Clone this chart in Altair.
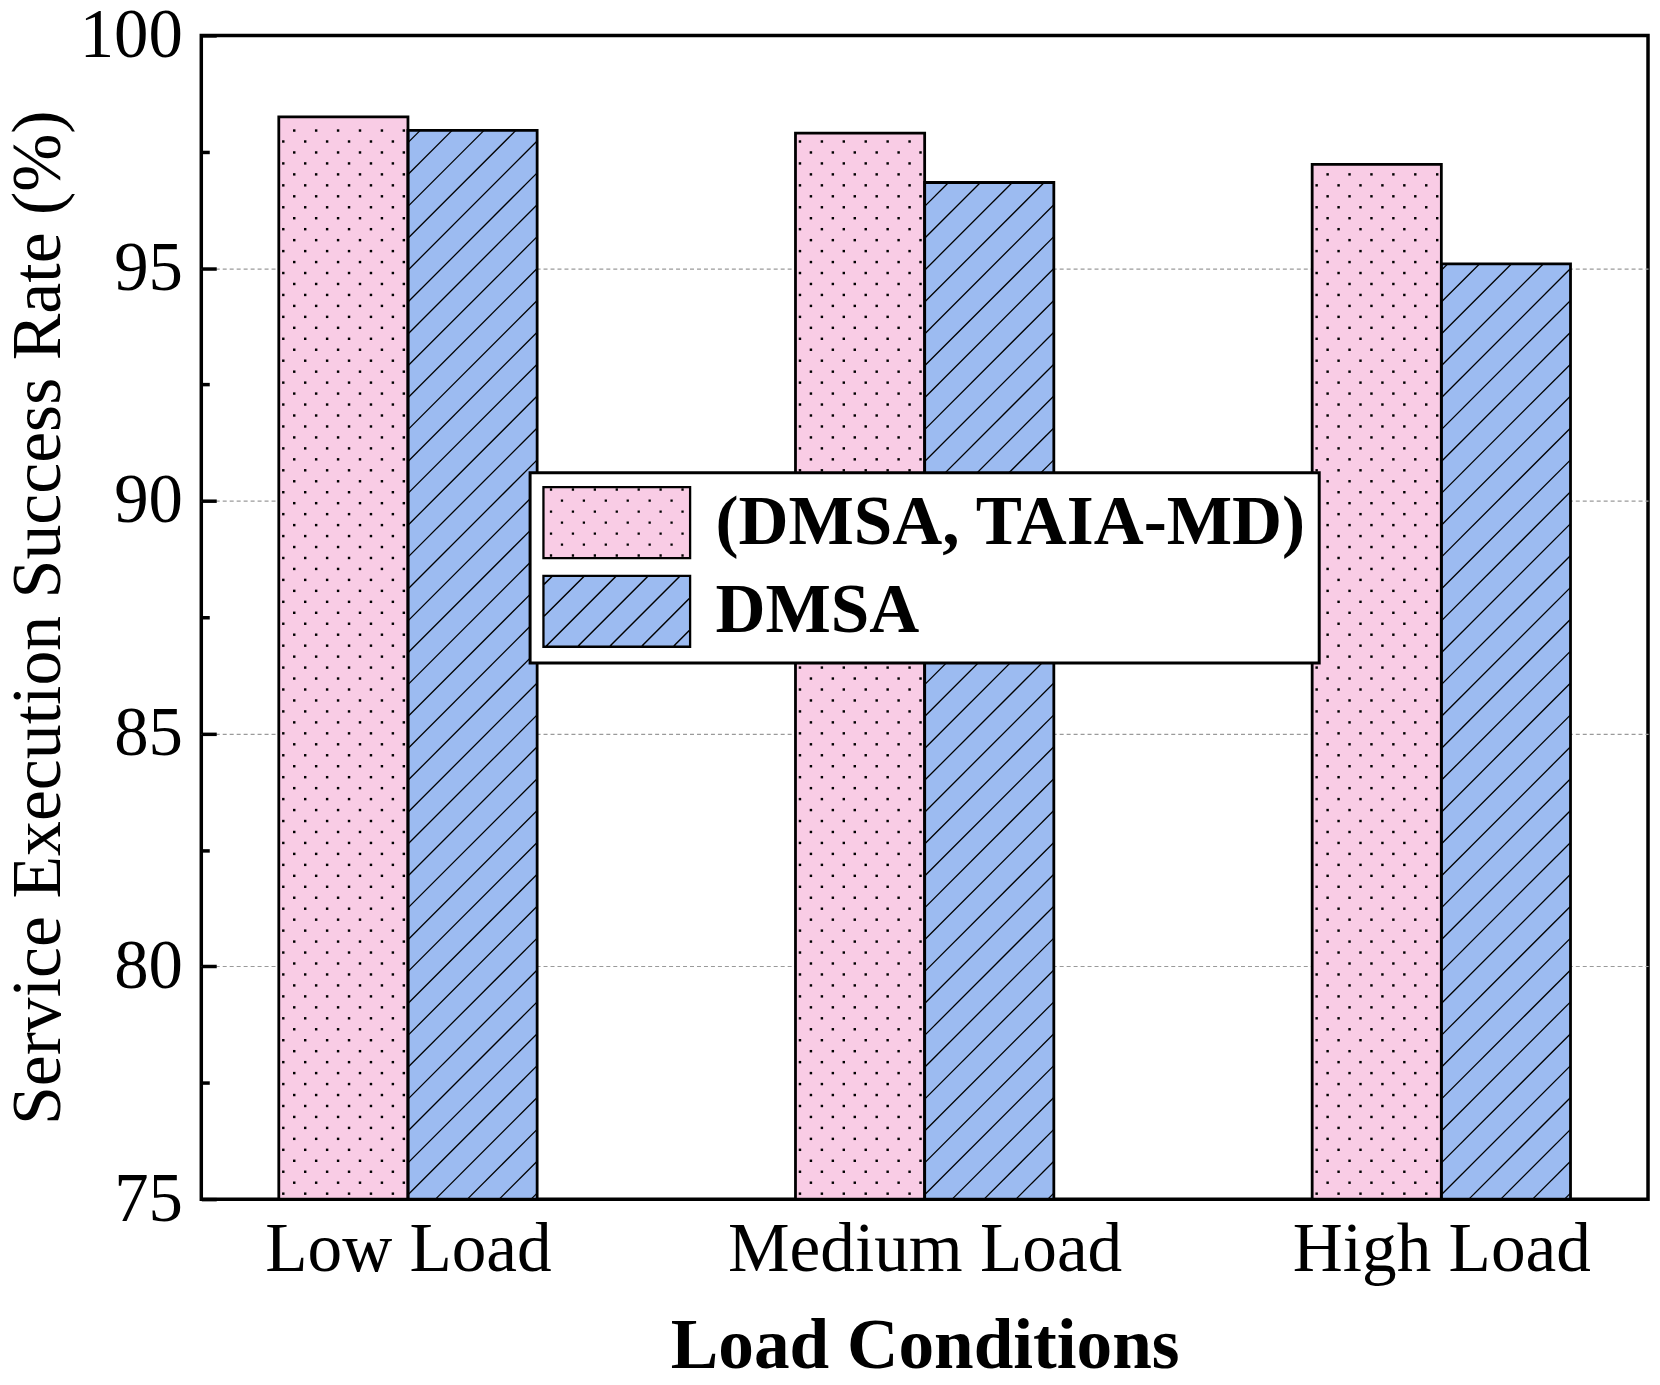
import altair as alt
import pandas as pd

# ---------------- data ----------------
categories = ["Low Load", "Medium Load", "High Load"]
series_names = ["(DMSA, TAIA-MD)", "DMSA"]
taia_md = [98.25, 97.90, 97.23]
dmsa = [97.96, 96.84, 95.09]
colors = ["#F9CCE5", "#9CBBF1"]
y_major = [75, 80, 85, 90, 95, 100]
y_minor = [77.5, 82.5, 87.5, 92.5, 97.5]
y_grid = [80, 85, 90, 95]

# ---------------- layout ----------------
FONT = "Liberation Serif"
W, H = 1452, 1168
X_DOMAIN = [0.6, 3.4]
Y_DOMAIN = [75, 100]
BAR_W = 0.25
px_x = W / (X_DOMAIN[1] - X_DOMAIN[0])
px_y = H / (Y_DOMAIN[1] - Y_DOMAIN[0])

rows = []
for i, cat in enumerate(categories):
    pos = i + 1
    for name, vals, col, off in [
        (series_names[0], taia_md, colors[0], -BAR_W),
        (series_names[1], dmsa, colors[1], 0.0),
    ]:
        rows.append(dict(category=cat, series=name, pos=pos, x0=pos + off,
                         x1=pos + off + BAR_W, base=Y_DOMAIN[0],
                         value=vals[i], color=col))
bars = pd.DataFrame(rows)

# dotted pattern for the first series (derived from the bars)
dot_rows = []
for r in bars[bars.series == series_names[0]].itertuples():
    bw = (r.x1 - r.x0) * px_x
    hp = (r.value - Y_DOMAIN[0]) * px_y
    k = 0
    yy = 5.5
    while yy < hp - 3:
        xx = 4.5 if k % 2 == 0 else 15.5
        while xx < bw - 2:
            dot_rows.append(dict(x=r.x0 + xx / px_x, y=Y_DOMAIN[0] + yy / px_y))
            xx += 22
        yy += 11
        k += 1
dots = pd.DataFrame(dot_rows)

# hatch pattern for the second series (derived from the bars)
hatch_rows = []
for r in bars[bars.series == series_names[1]].itertuples():
    bw = (r.x1 - r.x0) * px_x
    hp = (r.value - Y_DOMAIN[0]) * px_y
    c = -bw + 6
    while c < hp:
        xa = max(0.0, -c)
        xb = min(bw, hp - c)
        if xb - xa > 1:
            hatch_rows.append(dict(
                x=r.x0 + xa / px_x, y=Y_DOMAIN[0] + (xa + c) / px_y,
                x2=r.x0 + xb / px_x, y2=Y_DOMAIN[0] + (xb + c) / px_y))
        c += 32
hatch = pd.DataFrame(hatch_rows)

# legend swatch symbols as SVG paths
SW, SH = 74.0, 36.0      # half width / half height of a swatch, px
UNIT = 37.0              # px per path unit (sqrt(symbolSize) / 2)


def u(v):
    return f"{v / UNIT:.4f}"


def rect_path(hw, hh):
    return f"M{u(-hw)},{u(-hh)}H{u(hw)}V{u(hh)}H{u(-hw)}Z"


frame = rect_path(SW, SH) + rect_path(SW - 0.8, SH - 0.8)
dot_path = ""
for k in range(7):
    yy = -33 + 11 * k
    xs_ = [-66, -44, -22, 0, 22, 44, 66] if k % 2 == 0 else [-55, -33, -11, 11, 33, 55]
    for xx in xs_:
        dot_path += f"M{u(xx - 0.4)},{u(yy - 0.4)}H{u(xx + 0.4)}V{u(yy + 0.4)}H{u(xx - 0.4)}Z"
hatch_path = ""
c = -SW - SH + 10
while c < SW + SH:
    xa = max(-SW, c - SH)
    xb = min(SW, c + SH)
    if xb - xa > 1:
        hatch_path += f"M{u(xa)},{u(c - xa)}L{u(xb)},{u(c - xb)}"
    c += 32
shape_paths = [frame + dot_path, frame + hatch_path]
legend_pts = pd.DataFrame({"series": series_names, "x": [1, 1], "y": [80, 80]})

label_expr = " : ".join(
    f"datum.value == {i + 1} ? '{c}'" for i, c in enumerate(categories[:-1])
) + f" : '{categories[-1]}'"

xs = alt.Scale(domain=X_DOMAIN, nice=False, zero=False)
ys = alt.Scale(domain=Y_DOMAIN, nice=False, zero=False)

x_axis = alt.Axis(orient="bottom", values=[1, 2, 3], labelExpr=label_expr,
                  ticks=False, tickSize=0, domain=False, grid=False,
                  labelFont=FONT, labelFontSize=69.5, labelColor="black",
                  labelPadding=72, labelBaseline="alphabetic", labelOverlap=False,
                  labelLimit=1000,
                  title="Load Conditions", titleFont=FONT, titleFontSize=71.5,
                  titleFontWeight="bold", titleColor="black", titleLimit=2000,
                  titleY=169, titleX=W / 2, titleBaseline="alphabetic")
y_label_axis = alt.Axis(orient="left", values=y_major, ticks=False, tickSize=0,
                        domain=False, grid=False, labelFont=FONT, labelFontSize=69,
                        labelColor="black", labelPadding=19, labelLimit=1000,
                        title="Service Execution Success Rate (%)", titleFont=FONT,
                        titleFontSize=70, titleFontWeight="normal", titleColor="black",
                        titleLimit=3000,
                        titleX=-142, titleY=H / 2, titleBaseline="alphabetic",
                        titleAngle=270, titleAlign="center")
y_grid_axis = alt.Axis(orient="left", values=y_grid, grid=True, gridColor="#9a9a9a",
                       gridDash=[4, 3], gridWidth=1.2, labels=False, ticks=False,
                       domain=False, title=None)
y_major_ticks = alt.Axis(orient="right", offset=-W, values=y_major, ticks=True,
                         tickSize=15, tickWidth=3.5, tickColor="black", labels=False,
                         domain=False, grid=False, title=None)
y_minor_ticks = alt.Axis(orient="right", offset=-W, values=y_minor, ticks=True,
                         tickSize=8, tickWidth=3.5, tickColor="black", labels=False,
                         domain=False, grid=False, title=None)

bar_fill = alt.Chart(bars).mark_rect(strokeWidth=0).encode(
    x=alt.X("x0:Q", scale=xs, axis=x_axis),
    x2="x1:Q",
    y=alt.Y("value:Q", scale=ys, axis=y_label_axis),
    y2="base:Q",
    fill=alt.Fill("color:N", scale=None),
)

dot_layer = alt.Chart(dots).mark_square(size=6, color="black", opacity=1).encode(
    x=alt.X("x:Q", scale=xs, axis=None),
    y=alt.Y("y:Q", scale=ys, axis=y_grid_axis),
)

hatch_layer = alt.Chart(hatch).mark_rule(color="black", strokeWidth=1.3).encode(
    x=alt.X("x:Q", scale=xs, axis=None),
    y=alt.Y("y:Q", scale=ys, axis=y_major_ticks),
    x2="x2:Q",
    y2="y2:Q",
)

bar_outline = alt.Chart(bars).mark_rect(fillOpacity=0, stroke="black", strokeWidth=2.8).encode(
    x=alt.X("x0:Q", scale=xs, axis=None),
    x2="x1:Q",
    y=alt.Y("value:Q", scale=ys, axis=y_minor_ticks),
    y2="base:Q",
)

legend = alt.Legend(title=None, orient="none", legendX=330, legendY=439,
                    direction="vertical", symbolSize=(2 * UNIT) ** 2,
                    symbolStrokeWidth=1.5, symbolStrokeColor="black", symbolOpacity=1,
                    labelFont=FONT, labelFontSize=69.5, labelFontWeight="bold",
                    labelColor="black", labelLimit=1000, labelOffset=61,
                    rowPadding=9, padding=12, strokeColor="black",
                    fillColor="white", symbolOffset=37, labelBaseline="middle")

legend_layer = alt.Chart(legend_pts).mark_point(
    filled=True, opacity=0, strokeWidth=1.5
).encode(
    x=alt.X("x:Q", scale=xs, axis=None),
    y=alt.Y("y:Q", scale=ys, axis=None),
    fill=alt.Fill("series:N", scale=alt.Scale(domain=series_names, range=colors), legend=legend),
    shape=alt.Shape("series:N", scale=alt.Scale(domain=series_names, range=shape_paths), legend=legend),
    stroke=alt.Stroke("series:N", scale=alt.Scale(domain=series_names, range=["black", "black"]), legend=legend),
)

chart = alt.layer(bar_fill, dot_layer, hatch_layer, bar_outline, legend_layer).resolve_axis(
    x="independent", y="independent"
).properties(
    width=W, height=H,
    autosize=alt.AutoSizeParams(type="none"),
    padding={"left": 194, "top": 25, "right": 4, "bottom": 170},
).configure_view(
    stroke="black", strokeWidth=3.5
).configure_legend(
    strokeWidth=3
)

chart.save("out.html", embed_options={"renderer": "svg", "actions": False})
